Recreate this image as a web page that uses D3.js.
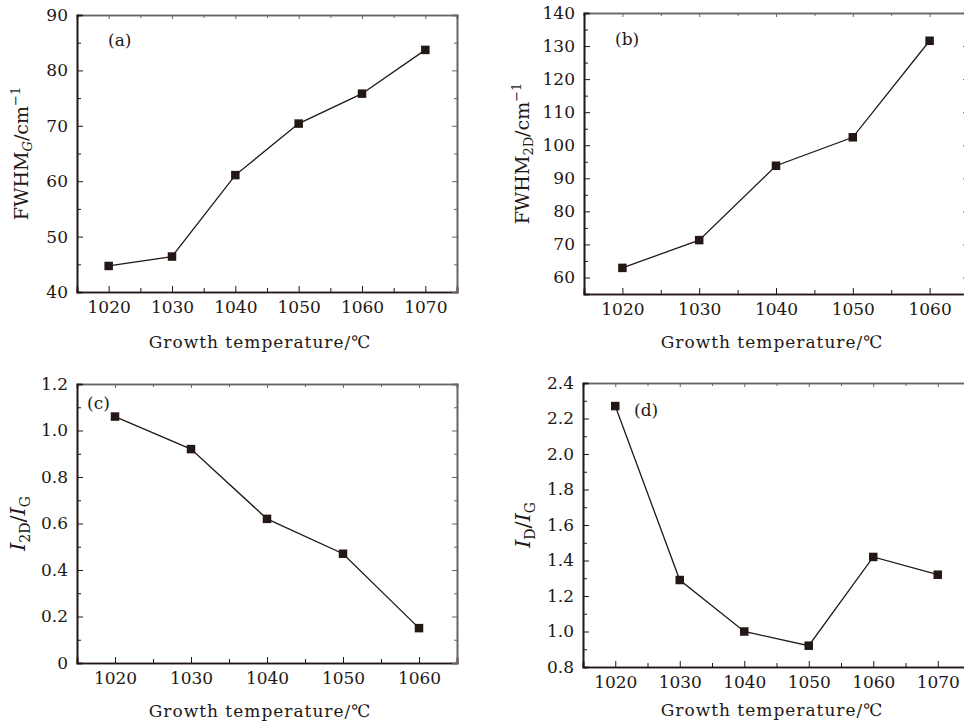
<!DOCTYPE html>
<html><head><meta charset="utf-8">
<script src="https://cdn.jsdelivr.net/npm/d3@7"></script>
<style>
body{margin:0;background:#fff;}
svg{display:block;}
text{font-family:"DejaVu Serif",serif;fill:#231815;}
</style></head><body>
<svg id="chart" width="964" height="724"></svg>
<script>
// ---- data ----
const tempsA = [1020, 1030, 1040, 1050, 1060, 1070];
const fwhmG = [44.7, 46.4, 61.1, 70.4, 75.8, 83.7];
const tempsB = [1020, 1030, 1040, 1050, 1060];
const fwhm2D = [62.9, 71.3, 93.8, 102.4, 131.6];
const tempsC = [1020, 1030, 1040, 1050, 1060];
const ratio2DG = [1.06, 0.92, 0.62, 0.47, 0.15];
const tempsD = [1020, 1030, 1040, 1050, 1060, 1070];
const ratioDG = [2.27, 1.29, 1.00, 0.92, 1.42, 1.32];
const yTicksA = [40, 50, 60, 70, 80, 90];
const yTicksB = [60, 70, 80, 90, 100, 110, 120, 130, 140];
const yTicksC = [0, 0.2, 0.4, 0.6, 0.8, 1.0, 1.2];
const yTicksD = [0.8, 1.0, 1.2, 1.4, 1.6, 1.8, 2.0, 2.2, 2.4];
const xTitle = "Growth temperature/\u2103";

const svg = d3.select("#chart");
const ink = "#231815";

function panel(o) {
  const g = svg.append("g");
  const x = d3.scaleLinear().domain(o.xDomain).range([o.left, o.right]);
  const y = d3.scaleLinear().domain(o.yDomain).range([o.bottom, o.top]);
  const xMajor = d3.range(o.xDomain[0] + 5, o.xDomain[1], 10);
  const xMinor = d3.range(o.xDomain[0] + 10, o.xDomain[1], 10);
  const yMinor = o.yMinor;

  // bottom axis (ticks inward)
  const xb = d3.axisBottom(x).tickValues(xMajor).tickSize(-6).tickPadding(9).tickFormat(d3.format("d"));
  const gxb = g.append("g").attr("transform", `translate(0,${o.bottom})`).call(xb);
  gxb.append("g").call(d3.axisBottom(x).tickValues(xMinor).tickSize(-4).tickFormat(""));
  // top axis
  const gxt = g.append("g").attr("transform", `translate(0,${o.top})`).call(d3.axisTop(x).tickValues(xMajor).tickSize(-4).tickFormat(""));
  gxt.append("g").call(d3.axisTop(x).tickValues(xMinor).tickSize(-3).tickFormat(""));
  // left axis
  const yl = d3.axisLeft(y).tickValues(o.yTicks).tickSize(-6).tickPadding(9).tickFormat(o.yFormat);
  const gyl = g.append("g").attr("transform", `translate(${o.left},0)`).call(yl);
  gyl.append("g").call(d3.axisLeft(y).tickValues(yMinor).tickSize(-4).tickFormat(""));
  // right axis
  const gyr = g.append("g").attr("transform", `translate(${o.right},0)`).call(d3.axisRight(y).tickValues(o.yTicks).tickSize(-5).tickFormat(""));
  gyr.append("g").call(d3.axisRight(y).tickValues(yMinor).tickSize(-3).tickFormat(""));

  g.selectAll(".domain").attr("stroke", ink).attr("stroke-width", 1.6);
  g.selectAll(".tick line").attr("stroke", ink).attr("stroke-width", 1);
  g.selectAll(".tick text").attr("font-size", 17).attr("font-family", "DejaVu Serif").attr("fill", ink);
  gxt.selectAll(".domain, .tick line").attr("stroke", "#6b6461");
  gyr.selectAll(".domain, .tick line").attr("stroke", "#6b6461");

  // line + markers
  const pts = o.xs.map((d, i) => [d, o.ys[i]]);
  g.append("path").datum(pts)
    .attr("d", d3.line().x(d => x(d[0])).y(d => y(d[1])))
    .attr("fill", "none").attr("stroke", ink).attr("stroke-width", 1.3);
  const s = 8.5;
  g.selectAll("rect.m").data(pts).join("rect").attr("class", "m")
    .attr("x", d => x(d[0]) - s / 2).attr("y", d => y(d[1]) - s / 2)
    .attr("width", s).attr("height", s).attr("fill", ink);

  // panel label
  g.append("text").attr("x", o.lab[0]).attr("y", o.lab[1]).attr("font-size", 17).text(o.label);

  // x title
  g.append("text").attr("x", (o.left + o.xTitleC)).attr("y", o.xTitleY)
    .attr("text-anchor", "middle").attr("font-size", 17).attr("letter-spacing", 1).text(xTitle);

  // y title
  const yt = g.append("text").attr("transform", `translate(${o.yTitleX},${(o.top + o.bottom) / 2}) rotate(-90)`)
    .attr("text-anchor", "middle").attr("font-size", o.yTitleSize);
  o.yTitle(yt);
}

function fwhmTitle(sub, subItalic) {
  return t => {
    t.append("tspan").text("FWHM");
    t.append("tspan").attr("font-size", 13).attr("dy", 4).attr("font-style", subItalic ? "italic" : "normal").text(sub);
    t.append("tspan").attr("dy", -4).text("/cm");
    t.append("tspan").attr("font-size", 13).attr("dy", -8).text("\u22121");
  };
}
function ratioTitle(sub) {
  return t => {
    t.append("tspan").attr("font-style", "italic").text("I");
    t.append("tspan").attr("font-size", 14).attr("dy", 5).text(sub);
    t.append("tspan").attr("dy", -5).text("/");
    t.append("tspan").attr("font-style", "italic").text("I");
    t.append("tspan").attr("font-size", 14).attr("dy", 5).text("G");
  };
}

panel({ left: 77, right: 457, top: 15, bottom: 292, xDomain: [1015, 1075], yDomain: [40, 90],
  yTicks: yTicksA, yMinor: d3.range(45, 90, 10), yFormat: d3.format("d"),
  xs: tempsA, ys: fwhmG, label: "(a)", lab: [108, 46], xTitleC: 183, xTitleY: 348, yTitleX: 28, yTitleSize: 19,
  yTitle: fwhmTitle("G", true) });
panel({ left: 584, right: 968, top: 13, bottom: 294, xDomain: [1015, 1065], yDomain: [55, 140],
  yTicks: yTicksB, yMinor: d3.range(65, 140, 10), yFormat: d3.format("d"),
  xs: tempsB, ys: fwhm2D, label: "(b)", lab: [615, 45], xTitleC: 188, xTitleY: 348, yTitleX: 529, yTitleSize: 19,
  yTitle: fwhmTitle("2D", false) });
panel({ left: 77, right: 457, top: 384, bottom: 663, xDomain: [1015, 1065], yDomain: [0, 1.2],
  yTicks: yTicksC, yMinor: d3.range(0.1, 1.2, 0.2), yFormat: d => d === 0 ? "0" : d3.format(".1f")(d),
  xs: tempsC, ys: ratio2DG, label: "(c)", lab: [87, 409], xTitleC: 183, xTitleY: 717, yTitleX: 25, yTitleSize: 21,
  yTitle: ratioTitle("2D") });
panel({ left: 583, right: 970, top: 383, bottom: 667, xDomain: [1015, 1075], yDomain: [0.8, 2.4],
  yTicks: yTicksD, yMinor: d3.range(0.9, 2.4, 0.2), yFormat: d3.format(".1f"),
  xs: tempsD, ys: ratioDG, label: "(d)", lab: [634, 416], xTitleC: 189, xTitleY: 716, yTitleX: 530, yTitleSize: 21,
  yTitle: ratioTitle("D") });
</script></body></html>
